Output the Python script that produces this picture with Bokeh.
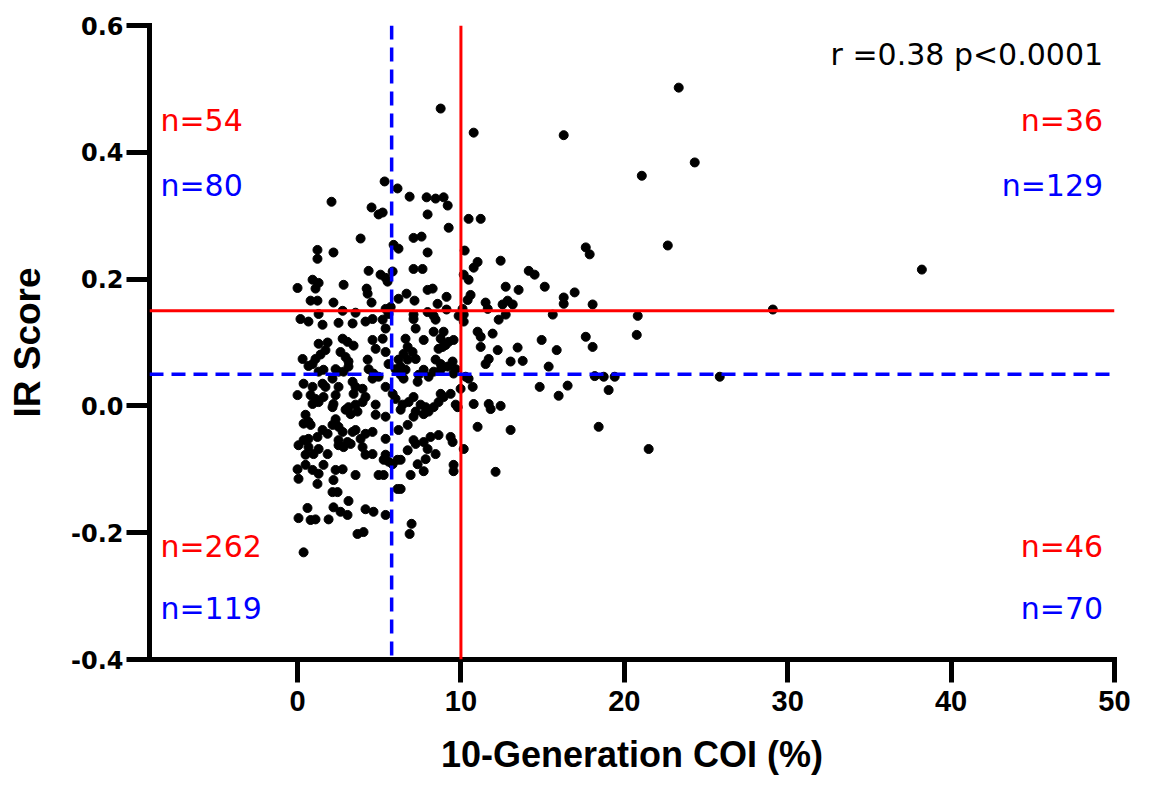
from bokeh.plotting import figure
from bokeh.models import Span, Label, FixedTicker, NumeralTickFormatter, Range1d, ColumnDataSource
from bokeh.embed import file_html
from bokeh.resources import INLINE

# ---------------- data ----------------
# (COI %, IR score) pairs, grouped by region of the plot
pts_right = [(8.76, 0.469), (10.78, 0.431), (23.33, 0.502), (16.29, 0.427), (24.31, 0.384), (21.07, 0.363),
             (22.66, 0.253), (17.64, 0.250), (17.88, 0.239), (14.15, 0.213), (14.51, 0.207), (13.53, 0.183),
             (15.13, 0.188), (16.29, 0.171), (16.29, 0.161), (16.96, 0.179), (18.06, 0.160), (15.62, 0.144),
             (20.82, 0.142), (20.76, 0.112), (14.94, 0.104), (17.64, 0.109), (18.06, 0.093), (13.47, 0.092),
             (13.78, 0.071), (15.86, 0.088), (15.37, 0.062), (18.19, 0.047), (18.74, 0.046), (19.41, 0.046),
             (25.84, 0.046), (14.82, 0.030), (16.53, 0.032), (15.98, 0.016), (19.04, 0.025), (18.43, -0.033),
             (21.49, -0.068), (38.21, 0.215), (29.09, 0.152)]

pts_top_left = [(5.33, 0.354), (6.12, 0.343), (2.08, 0.322), (4.53, 0.313), (4.96, 0.302), (5.21, 0.305),
                (3.86, 0.264), (5.88, 0.254), (6.18, 0.248), (1.22, 0.246), (1.22, 0.232), (2.20, 0.242),
                (4.35, 0.213), (5.08, 0.207), (5.39, 0.202), (5.82, 0.212), (5.51, 0.196), (0.92, 0.199),
                (1.29, 0.194), (0.00, 0.186), (1.10, 0.185), (2.82, 0.191), (4.23, 0.185), (4.29, 0.177),
                (6.18, 0.169), (0.80, 0.166), (1.22, 0.166), (2.20, 0.163), (4.53, 0.163), (2.76, 0.150),
                (1.29, 0.145), (3.55, 0.147), (5.39, 0.153), (5.70, 0.156), (5.57, 0.145)]

pts_top_mid = [(6.86, 0.330), (7.90, 0.329), (8.45, 0.327), (8.94, 0.329), (9.19, 0.316), (7.96, 0.302),
               (9.25, 0.281), (10.47, 0.295), (11.21, 0.295), (7.10, 0.265), (7.59, 0.267), (7.96, 0.242),
               (10.23, 0.245), (12.43, 0.229), (11.02, 0.227), (10.78, 0.218), (7.10, 0.216), (7.65, 0.216),
               (10.17, 0.207), (10.47, 0.199), (12.74, 0.188), (7.96, 0.183), (8.27, 0.185), (6.67, 0.177),
               (10.59, 0.175), (10.41, 0.167), (9.12, 0.172), (7.16, 0.166), (8.57, 0.161), (11.51, 0.163),
               (11.64, 0.153), (12.55, 0.160), (12.86, 0.166), (13.17, 0.160), (9.12, 0.152), (7.96, 0.148),
               (8.33, 0.142), (7.10, 0.144), (10.10, 0.153), (10.17, 0.144), (9.86, 0.142), (12.74, 0.144)]

pts_mid_left = [(0.18, 0.137), (0.67, 0.133), (1.53, 0.128), (2.51, 0.131), (3.37, 0.130), (4.16, 0.133),
                (4.59, 0.137), (5.21, 0.136), (5.39, 0.122), (2.76, 0.106), (3.06, 0.101), (3.43, 0.095),
                (1.29, 0.098), (1.84, 0.100), (1.71, 0.088), (1.41, 0.081), (1.10, 0.074), (0.92, 0.066),
                (0.67, 0.063), (0.31, 0.074), (2.63, 0.085), (2.94, 0.077), (3.12, 0.070), (3.12, 0.062),
                (4.59, 0.104), (5.21, 0.106), (4.78, 0.090), (5.39, 0.085), (4.29, 0.073), (4.35, 0.058),
                (4.65, 0.051), (4.59, 0.043), (2.33, 0.058), (2.51, 0.054), (2.82, 0.054), (1.59, 0.057),
                (1.29, 0.054), (5.57, 0.066), (6.00, 0.058), (6.31, 0.049), (6.18, 0.073), (0.37, 0.035),
                (0.00, 0.017), (0.92, 0.030), (1.53, 0.035), (2.14, 0.043), (1.71, 0.030), (2.51, 0.030),
                (2.33, 0.017), (2.20, 0.003), (2.14, -0.002), (3.37, 0.038), (3.55, 0.030), (3.98, 0.027),
                (3.43, 0.019), (5.39, 0.030), (4.96, 0.046), (0.80, 0.017), (1.10, 0.011), (0.92, 0.003),
                (1.29, 0.006), (1.59, 0.014), (4.16, 0.014), (3.98, 0.006), (3.55, 0.002), (3.12, -0.002),
                (3.25, -0.013), (3.67, -0.009), (2.94, -0.006), (4.78, 0.002), (5.82, 0.019), (6.00, 0.011),
                (0.49, -0.014), (0.67, -0.025), (0.37, -0.028), (0.80, -0.030), (2.33, -0.021), (2.14, -0.030),
                (2.51, -0.033), (4.78, -0.014), (5.39, -0.017), (1.53, -0.038), (1.84, -0.044), (1.22, -0.049),
                (0.67, -0.052), (0.37, -0.054), (2.76, -0.041), (3.37, -0.041), (3.55, -0.038), (4.16, -0.044),
                (4.59, -0.041), (3.86, -0.052), (6.18, -0.038), (2.51, -0.054), (3.06, -0.057), (5.39, -0.052)]

pts_mid_mid = [(6.61, 0.106), (6.74, 0.093), (6.49, 0.082), (7.04, 0.085), (7.23, 0.074), (6.74, 0.073),
               (6.31, 0.062), (6.61, 0.057), (7.10, 0.137), (7.23, 0.122), (8.45, 0.136), (8.33, 0.117),
               (8.94, 0.117), (8.76, 0.106), (9.25, 0.101), (9.55, 0.104), (8.88, 0.093), (8.63, 0.090),
               (9.06, 0.096), (7.72, 0.104), (10.17, 0.133), (11.02, 0.117), (11.21, 0.109), (11.21, 0.093),
               (11.94, 0.114), (12.31, 0.136), (12.25, 0.088), (11.70, 0.074), (11.51, 0.066), (13.04, 0.070),
               (8.45, 0.073), (8.76, 0.066), (9.19, 0.062), (9.49, 0.070), (9.68, 0.058), (9.55, 0.051),
               (8.76, 0.057), (8.33, 0.054), (7.72, 0.057), (7.41, 0.049), (8.02, 0.046), (7.35, 0.038),
               (6.49, 0.043), (10.29, 0.046), (10.47, 0.043), (10.72, 0.030), (9.98, 0.027), (7.10, 0.014),
               (6.80, 0.006), (7.53, 0.002), (7.84, -0.002), (7.23, -0.009), (7.72, -0.013), (7.10, -0.017),
               (8.02, -0.009), (8.76, 0.019), (8.94, 0.014), (9.37, 0.019), (8.63, 0.006), (8.33, -0.002),
               (9.68, 0.002), (9.80, -0.002), (6.43, 0.002), (6.31, -0.006), (10.78, 0.003), (11.70, 0.003),
               (11.82, -0.005), (12.43, 0.000), (11.02, -0.033), (13.04, -0.038), (6.74, -0.030), (8.14, -0.049),
               (8.63, -0.046), (9.37, -0.049), (9.49, -0.057), (7.10, -0.054), (7.23, -0.060)]

pts_low_left = [(0.06, -0.062), (0.67, -0.065), (0.49, -0.077), (0.98, -0.076), (1.29, -0.068), (1.84, -0.076),
                (2.51, -0.062), (2.82, -0.065), (3.25, -0.060), (3.98, -0.065), (4.16, -0.077), (4.59, -0.076),
                (5.39, -0.077), (5.27, -0.085), (5.82, -0.092), (6.12, -0.085), (5.57, -0.088), (0.00, -0.100),
                (0.49, -0.093), (0.92, -0.101), (1.29, -0.107), (1.59, -0.093), (2.33, -0.101), (2.76, -0.100),
                (3.55, -0.109), (4.96, -0.109), (5.27, -0.109), (0.06, -0.115), (1.22, -0.123), (2.20, -0.117),
                (2.14, -0.136), (2.45, -0.136), (6.12, -0.131), (3.12, -0.150), (0.61, -0.161), (0.06, -0.177),
                (0.80, -0.180), (1.10, -0.179), (1.90, -0.179), (2.20, -0.160), (2.63, -0.167), (3.06, -0.172),
                (4.16, -0.163), (4.65, -0.167), (5.39, -0.172), (3.67, -0.202), (4.04, -0.199), (0.37, -0.231)]

pts_low_mid = [(7.72, -0.057), (6.74, -0.070), (7.96, -0.068), (8.45, -0.076), (10.17, -0.068), (6.31, -0.085),
               (7.35, -0.092), (7.84, -0.084), (6.92, -0.109), (7.72, -0.103), (9.55, -0.093), (9.55, -0.103),
               (12.12, -0.104), (6.31, -0.131), (6.98, -0.186), (6.86, -0.202)]

# thresholds
red_x, red_y = 10.0, 0.15
blue_x, blue_y = 5.76, 0.05

x_ticks = [0, 10, 20, 30, 40, 50]
y_ticks = [-0.4, -0.2, 0.0, 0.2, 0.4, 0.6]

stat_text = "r =0.38 p<0.0001"
red_counts = ["n=54", "n=36", "n=262", "n=46"]    # UL, UR, LL, LR
blue_counts = ["n=80", "n=129", "n=119", "n=70"]  # UL, UR, LL, LR

# ---------------- figure ----------------
all_pts = pts_right + pts_top_left + pts_top_mid + pts_mid_left + pts_mid_mid + pts_low_left + pts_low_mid
src = ColumnDataSource(data=dict(x=[q[0] for q in all_pts], y=[q[1] for q in all_pts]))

RED = "#ff0000"
BLUE = "#0000ff"

p = figure(width=1151, height=788, output_backend="svg", toolbar_location=None,
           x_range=Range1d(-9.06, 50), y_range=Range1d(-0.4, 0.6),
           min_border_left=149, min_border_right=37, min_border_top=25, min_border_bottom=129)
p.outline_line_color = None
p.grid.visible = False
p.background_fill_color = "white"
p.border_fill_color = "white"

for ax in (p.xaxis, p.yaxis):
    ax.axis_line_width = 5
    ax.axis_line_color = "black"
    ax.axis_line_cap = "square"
    ax.major_tick_line_width = 5
    ax.major_tick_line_color = "black"
    ax.major_tick_out = 23
    ax.major_tick_in = 0
    ax.minor_tick_line_color = None
    ax.major_label_text_color = "black"
    ax.axis_label_text_color = "black"

p.xaxis.ticker = FixedTicker(ticks=x_ticks)
p.yaxis.ticker = FixedTicker(ticks=y_ticks)
p.yaxis.formatter = NumeralTickFormatter(format="0.0")

p.yaxis.major_label_text_font = "DejaVu Sans"
p.yaxis.major_label_text_font_style = "bold"
p.yaxis.major_label_text_font_size = "24px"
p.yaxis.major_label_standoff = 3

p.xaxis.major_label_text_font = "Liberation Sans"
p.xaxis.major_label_text_font_style = "bold"
p.xaxis.major_label_text_font_size = "29px"
p.xaxis.major_label_standoff = 8

p.xaxis.axis_label = "10-Generation COI (%)"
p.xaxis.axis_label_text_font = "Liberation Sans"
p.xaxis.axis_label_text_font_style = "bold"
p.xaxis.axis_label_text_font_size = "36px"
p.xaxis.axis_label_standoff = 20

p.yaxis.axis_label = "IR Score"
p.yaxis.axis_label_text_font = "Liberation Sans"
p.yaxis.axis_label_text_font_style = "bold"
p.yaxis.axis_label_text_font_size = "37px"
p.yaxis.axis_label_standoff = 20

# threshold lines
p.add_layout(Span(location=red_x, dimension="height", line_color=RED, line_width=3))
p.add_layout(Span(location=red_y, dimension="width", line_color=RED, line_width=3))
p.add_layout(Span(location=blue_x, dimension="height", line_color=BLUE, line_width=3.5, line_dash="14 8"))
p.add_layout(Span(location=blue_y, dimension="width", line_color=BLUE, line_width=3.5, line_dash="14 8"))

p.scatter("x", "y", source=src, size=9, color="black", marker="circle")

# annotations
FONT = "DejaVu Sans"
FS = "30px"
xl, xr = -8.39, 49.3
rows = [0.4495, 0.347, -0.221, -0.319]
p.add_layout(Label(x=xr, y=0.555, text=stat_text, text_align="right", text_baseline="middle",
                   text_font=FONT, text_font_size=FS, text_color="black"))
p.add_layout(Label(x=xl, y=rows[0], text=red_counts[0], text_align="left", text_baseline="middle",
                   text_font=FONT, text_font_size=FS, text_color=RED))
p.add_layout(Label(x=xl, y=rows[1], text=blue_counts[0], text_align="left", text_baseline="middle",
                   text_font=FONT, text_font_size=FS, text_color=BLUE))
p.add_layout(Label(x=xr, y=rows[0], text=red_counts[1], text_align="right", text_baseline="middle",
                   text_font=FONT, text_font_size=FS, text_color=RED))
p.add_layout(Label(x=xr, y=rows[1], text=blue_counts[1], text_align="right", text_baseline="middle",
                   text_font=FONT, text_font_size=FS, text_color=BLUE))
p.add_layout(Label(x=xl, y=rows[2], text=red_counts[2], text_align="left", text_baseline="middle",
                   text_font=FONT, text_font_size=FS, text_color=RED))
p.add_layout(Label(x=xl, y=rows[3], text=blue_counts[2], text_align="left", text_baseline="middle",
                   text_font=FONT, text_font_size=FS, text_color=BLUE))
p.add_layout(Label(x=xr, y=rows[2], text=red_counts[3], text_align="right", text_baseline="middle",
                   text_font=FONT, text_font_size=FS, text_color=RED))
p.add_layout(Label(x=xr, y=rows[3], text=blue_counts[3], text_align="right", text_baseline="middle",
                   text_font=FONT, text_font_size=FS, text_color=BLUE))

open("out.html", "w").write(file_html(p, INLINE))
